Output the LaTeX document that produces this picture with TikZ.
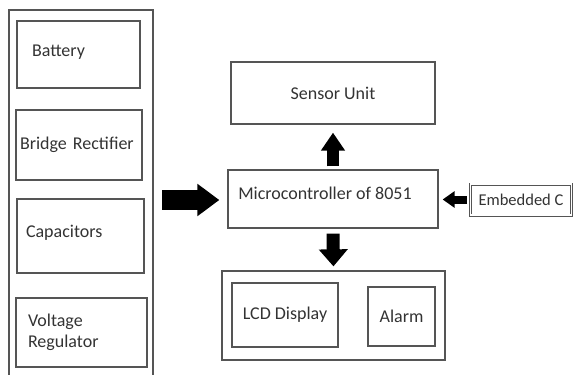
\documentclass[tikz,border=0pt]{standalone}
\usepackage{fontspec}
\setmainfont{Carlito}
\usetikzlibrary{arrows.meta,positioning,calc}
\definecolor{edge}{HTML}{555555}
\definecolor{ink}{HTML}{333333}
\tikzset{
  box/.style={draw=edge,line width=1.3pt,text=ink,inner sep=0pt,
    font=\fontsize{18}{21}\selectfont},
  part/.style={box,align=left},
  fat/.style={line width=#1,draw=black,line cap=butt},
}
\begin{document}
\begin{tikzpicture}[x=1pt,y=-1pt]
      \useasboundingbox (0,0) rectangle (576,375);
      % supply frame, open at the bottom
      \draw[edge,line width=1.6pt] (9,375) |- (153,10) -- (153,375);
      \coordinate (supply) at (153,200);
      \node[part,minimum height=67pt,text width=93pt,inner xsep=15pt,text depth=8pt] (bat) at (78.5,54.5) {Battery};
      \node[part,minimum height=70pt,text width=118pt,inner xsep=4pt] (rect) at (79,145) {Bridge Rectifier};
      \node[part,minimum height=74pt,text width=109pt,inner xsep=9pt,text depth=10pt] (cap) at (80.5,236) {Capacitors};
      \node[part,minimum height=69pt,text width=107pt,inner xsep=12pt] (reg) at (81.5,332.5) {Voltage\\Regulator};
      % controller side
      \node[box,minimum width=204pt,minimum height=62pt] (sensor) at (333,93) {Sensor Unit};
      \node[box,minimum width=210pt,minimum height=58pt,text depth=11pt] (mcu) at (333,199) {\hspace*{-16pt}Microcontroller of 8051};
      \node[box,double,double distance=1.2pt,line width=0.9pt,minimum width=101pt,minimum height=31pt,
        font=\fontsize{16.5}{20}\selectfont] (code) at (521,199.5) {Embedded C};
      \node[box,minimum width=223pt,minimum height=89pt] (out) at (333.5,315.5) {};
      \node[box,minimum width=106pt,minimum height=64pt] (lcd) at (285,315) {LCD Display};
      \node[box,minimum width=67pt,minimum height=59pt] (alarm) at (401.5,316.5) {Alarm};
      % block arrows
      \draw[fat=20pt,-{Triangle[width=31pt,length=22pt]},shorten <=9pt,shorten >=8pt] (supply) -- (supply -| mcu.west);
      \draw[fat=12pt,-{Triangle[width=23pt,length=18pt]},shorten <=3pt,shorten >=8pt] (mcu.north) -- (sensor.south);
      \draw[fat=13pt,-{Triangle[width=28pt,length=17pt]},shorten <=5pt,shorten >=4pt] (mcu.south) -- (out.north);
      \draw[fat=8pt,-{Triangle[width=16pt,length=12pt]},shorten <=3pt,shorten >=4pt] (code.west) -- (code.west -| mcu.east);
\end{tikzpicture}
\end{document}
